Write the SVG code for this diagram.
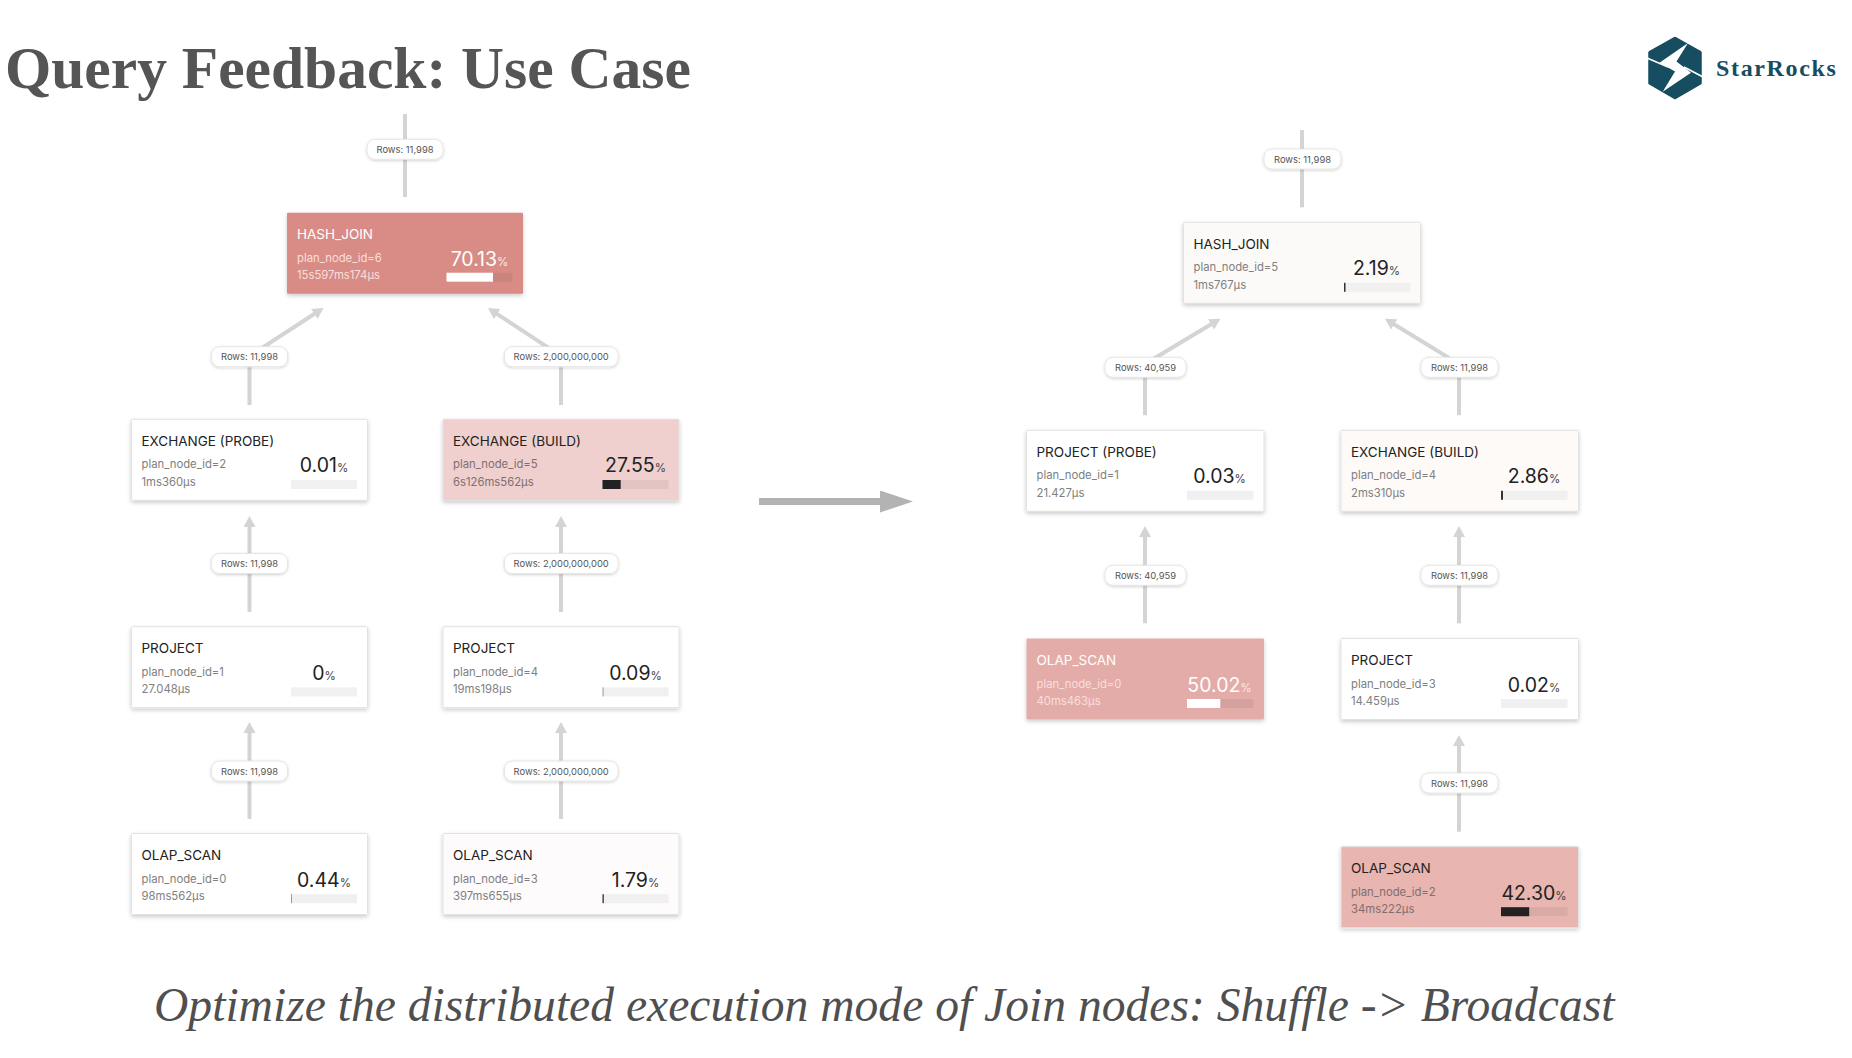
<svg xmlns="http://www.w3.org/2000/svg" width="1852" height="1058" viewBox="0 0 1852 1058">
<style>
text{font-family:Inter,"Liberation Sans",sans-serif}
.serif{font-family:"Liberation Serif",serif}
.head{font-size:59.5px;font-weight:700;fill:#555}
.sub{font-size:47.6px;font-style:italic;fill:#4f4f4f}
.brand{font-size:24px;font-weight:700;fill:#174d60;letter-spacing:1.65px}
.box{stroke:#e2e2e2;stroke-width:1;filter:url(#sh)}
.t{font-size:13.5px;fill:#222}
.m{font-size:11.3px;fill:#808080}
.p{font-size:19.5px;fill:#222;text-anchor:middle}
.p tspan{font-size:11.5px;fill:#444}
.bg{fill:#f0f0f0}
.fg{fill:#222}
.hot{stroke:none}
.hot .t,.hot .p{fill:#fff}
.hot .m{fill:#f8dfdc}
.hot .p tspan{fill:#fbe9e7}
.hot .bg{fill:#000;fill-opacity:.06}
.hot .fg{fill:#fff}
.warm .m{fill:#7f6f6f}
.warm .bg{fill:#000;fill-opacity:.06}
.edge{fill:none;stroke:#d4d4d4;stroke-width:4}
.pill{fill:#fff;stroke:#e6e6e6;stroke-width:1;filter:url(#sh2)}
.l{font-size:9.4px;fill:#555;text-anchor:middle}
</style>
<defs>
<filter id="sh" x="-5%" y="-10%" width="110%" height="125%"><feDropShadow dx="0" dy="2" stdDeviation="2.2" flood-color="#000" flood-opacity=".2"/></filter>
<filter id="sh2" x="-10%" y="-30%" width="120%" height="170%"><feDropShadow dx="0" dy="1" stdDeviation="1.5" flood-color="#000" flood-opacity=".18"/></filter>
<marker id="ah" markerUnits="userSpaceOnUse" markerWidth="12" markerHeight="12" viewBox="0 0 12 12" refX="5" refY="6" orient="auto"><path d="M0 0L11 6L0 12z" fill="#d4d4d4"/></marker>
<marker id="big" markerUnits="userSpaceOnUse" markerWidth="34" markerHeight="22" viewBox="0 0 34 22" refX="1" refY="11" orient="auto"><path d="M0 0L33 11L0 22z" fill="#b3b3b3"/></marker>
</defs>
<rect width="1852" height="1058" fill="#fff"/>
<text class="serif head" x="5" y="88">Query Feedback: Use Case</text>
<text class="serif sub" x="154" y="1021">Optimize the distributed execution mode of Join nodes: Shuffle -&gt; Broadcast</text>
<g id="logo">
<path d="M1675 38.5L1700 52.5V83L1675 97.5L1650 83V52.5z" fill="#174d60" stroke="#174d60" stroke-width="3.5" stroke-linejoin="round"/>
<path d="M1688 43L1659.5 62.7L1675 71.5L1662.7 91.7L1691 72.7L1676.5 61.5z" fill="#fff"/>
<path d="M1647 58L1668 67M1703 77L1684 67" stroke="#fff" stroke-width="1.6" fill="none"/>
<text class="serif brand" x="1716" y="76">StarRocks</text>
</g>
<g id="connectors">
<path class="edge" d="M405 114V197"/>
<path class="edge" d="M249.5 405V356L318.5 311.3" marker-end="url(#ah)"/>
<path class="edge" d="M561 405V356L493 311.3" marker-end="url(#ah)"/>
<path class="edge" d="M249.5 612V522" marker-end="url(#ah)"/>
<path class="edge" d="M561 612V522" marker-end="url(#ah)"/>
<path class="edge" d="M249.5 819V728" marker-end="url(#ah)"/>
<path class="edge" d="M561 819V728" marker-end="url(#ah)"/>
<path class="edge" d="M1302 130V207.3"/>
<path class="edge" d="M1145 415.3V364L1215.3 321.8" marker-end="url(#ah)"/>
<path class="edge" d="M1459 415.3V364L1390 321.8" marker-end="url(#ah)"/>
<path class="edge" d="M1145 623.3V532" marker-end="url(#ah)"/>
<path class="edge" d="M1459 623.3V532" marker-end="url(#ah)"/>
<path class="edge" d="M1459 831.7V741" marker-end="url(#ah)"/>
<path d="M759 501.5H881" fill="none" stroke="#b3b3b3" stroke-width="7" marker-end="url(#big)"/>
<rect class="pill" x="367" y="139.3" width="76" height="20" rx="8"/><text class="l" x="405" y="152.8">Rows: 11,998</text>
<rect class="pill" x="211.5" y="346.7" width="76" height="20" rx="8"/><text class="l" x="249.5" y="360.2">Rows: 11,998</text>
<rect class="pill" x="504.5" y="346.7" width="113.5" height="20" rx="8"/><text class="l" x="561.2" y="360.2">Rows: 2,000,000,000</text>
<rect class="pill" x="211.5" y="553.5" width="76" height="20" rx="8"/><text class="l" x="249.5" y="567">Rows: 11,998</text>
<rect class="pill" x="504.5" y="553.5" width="113.5" height="20" rx="8"/><text class="l" x="561.2" y="567">Rows: 2,000,000,000</text>
<rect class="pill" x="211.5" y="761" width="76" height="20" rx="8"/><text class="l" x="249.5" y="774.5">Rows: 11,998</text>
<rect class="pill" x="504.5" y="761" width="113.5" height="20" rx="8"/><text class="l" x="561.2" y="774.5">Rows: 2,000,000,000</text>
<rect class="pill" x="1264" y="149" width="77" height="20" rx="8"/><text class="l" x="1302.5" y="162.5">Rows: 11,998</text>
<rect class="pill" x="1105" y="357.3" width="81" height="20" rx="8"/><text class="l" x="1145.5" y="370.8">Rows: 40,959</text>
<rect class="pill" x="1421" y="357.3" width="77" height="20" rx="8"/><text class="l" x="1459.5" y="370.8">Rows: 11,998</text>
<rect class="pill" x="1105" y="565.3" width="81" height="20" rx="8"/><text class="l" x="1145.5" y="578.8">Rows: 40,959</text>
<rect class="pill" x="1421" y="565.3" width="77" height="20" rx="8"/><text class="l" x="1459.5" y="578.8">Rows: 11,998</text>
<rect class="pill" x="1421" y="773" width="77" height="20" rx="8"/><text class="l" x="1459.5" y="786.5">Rows: 11,998</text>
</g>
<g id="n-l-hash" class="hot" transform="translate(287,212.7)"><rect class="box hot" width="236" height="81" rx="1" fill="#d88c85"/><text class="t" x="10" y="26.7">HASH_JOIN</text><text class="m" x="10" y="49">plan_node_id=6</text><text class="m" x="10" y="66.8">15s597ms174μs</text><text class="p" x="192.5" y="53">70.13<tspan>%</tspan></text><rect class="bg" x="159.5" y="60" width="66" height="9"/><rect class="fg" x="159.5" y="60" width="46.5" height="9"/></g>
<g id="n-l-ex-probe" transform="translate(131.5,419.3)"><rect class="box" width="236" height="81" rx="1" fill="#fff"/><text class="t" x="10" y="26.7">EXCHANGE (PROBE)</text><text class="m" x="10" y="49">plan_node_id=2</text><text class="m" x="10" y="66.8">1ms360μs</text><text class="p" x="192.5" y="53">0.01<tspan>%</tspan></text><rect class="bg" x="159.5" y="60.7" width="66" height="9"/></g>
<g id="n-l-ex-build" class="warm" transform="translate(443,419.3)"><rect class="box" width="236" height="81" rx="1" fill="#efd0cf" stroke="none"/><text class="t" x="10" y="26.7">EXCHANGE (BUILD)</text><text class="m" x="10" y="49">plan_node_id=5</text><text class="m" x="10" y="66.8">6s126ms562μs</text><text class="p" x="192.5" y="53">27.55<tspan>%</tspan></text><rect class="bg" x="159.5" y="60.7" width="66" height="9"/><rect class="fg" x="159.5" y="60.7" width="18.2" height="9"/></g>
<g id="n-l-project1" transform="translate(131.5,626.7)"><rect class="box" width="236" height="81" rx="1" fill="#fff"/><text class="t" x="10" y="26.7">PROJECT</text><text class="m" x="10" y="49">plan_node_id=1</text><text class="m" x="10" y="66.8">27.048μs</text><text class="p" x="192.5" y="53">0<tspan>%</tspan></text><rect class="bg" x="159.5" y="60.7" width="66" height="9"/></g>
<g id="n-l-project4" transform="translate(443,626.7)"><rect class="box" width="236" height="81" rx="1" fill="#fff"/><text class="t" x="10" y="26.7">PROJECT</text><text class="m" x="10" y="49">plan_node_id=4</text><text class="m" x="10" y="66.8">19ms198μs</text><text class="p" x="192.5" y="53">0.09<tspan>%</tspan></text><rect class="bg" x="159.5" y="60.7" width="66" height="9"/><rect x="159.5" y="60.7" width="1.2" height="9" fill="#aaa"/></g>
<g id="n-l-scan0" transform="translate(131.5,833.5)"><rect class="box" width="236" height="81" rx="1" fill="#fff"/><text class="t" x="10" y="26.7">OLAP_SCAN</text><text class="m" x="10" y="49">plan_node_id=0</text><text class="m" x="10" y="66.8">98ms562μs</text><text class="p" x="192.5" y="53">0.44<tspan>%</tspan></text><rect class="bg" x="159.5" y="60.7" width="66" height="9"/><rect x="159.5" y="60.7" width="1" height="9" fill="#999"/></g>
<g id="n-l-scan3" transform="translate(443,833.5)"><rect class="box" width="236" height="81" rx="1" fill="#fdfbfb"/><text class="t" x="10" y="26.7">OLAP_SCAN</text><text class="m" x="10" y="49">plan_node_id=3</text><text class="m" x="10" y="66.8">397ms655μs</text><text class="p" x="192.5" y="53">1.79<tspan>%</tspan></text><rect class="bg" x="159.5" y="60.7" width="66" height="9"/><rect x="159.5" y="60.7" width="1.3" height="9" fill="#333"/></g>
<g id="n-r-hash" transform="translate(1183.5,222.3)"><rect class="box" width="237" height="81" rx="1" fill="#fcfaf8"/><text class="t" x="10" y="26.8">HASH_JOIN</text><text class="m" x="10" y="49">plan_node_id=5</text><text class="m" x="10" y="66.8">1ms767μs</text><text class="p" x="193" y="53.2">2.19<tspan>%</tspan></text><rect class="bg" x="160.5" y="60.5" width="66.5" height="9"/><rect x="160.5" y="60.5" width="1.5" height="9" fill="#333"/></g>
<g id="n-r-project1" transform="translate(1026.5,430.3)"><rect class="box" width="237.5" height="81" rx="1" fill="#fff"/><text class="t" x="10" y="26.8">PROJECT (PROBE)</text><text class="m" x="10" y="49">plan_node_id=1</text><text class="m" x="10" y="66.8">21.427μs</text><text class="p" x="193" y="53.2">0.03<tspan>%</tspan></text><rect class="bg" x="160.5" y="60.5" width="66.5" height="9"/></g>
<g id="n-r-ex-build" transform="translate(1341,430.3)"><rect class="box" width="237.5" height="81" rx="1" fill="#fdfaf8"/><text class="t" x="10" y="26.8">EXCHANGE (BUILD)</text><text class="m" x="10" y="49">plan_node_id=4</text><text class="m" x="10" y="66.8">2ms310μs</text><text class="p" x="193" y="53.2">2.86<tspan>%</tspan></text><rect class="bg" x="160" y="60.5" width="66.5" height="9"/><rect x="160" y="60.5" width="2" height="9" fill="#333"/></g>
<g id="n-r-scan0" class="hot" transform="translate(1026.5,638.5)"><rect class="box hot" width="237.5" height="81" rx="1" fill="#e3aca8"/><text class="t" x="10" y="26.8">OLAP_SCAN</text><text class="m" x="10" y="49">plan_node_id=0</text><text class="m" x="10" y="66.8">40ms463μs</text><text class="p" x="193" y="53.2">50.02<tspan>%</tspan></text><rect class="bg" x="160.5" y="60.5" width="66.5" height="9"/><rect class="fg" x="160.5" y="60.5" width="33.3" height="9"/></g>
<g id="n-r-project3" transform="translate(1341,638.5)"><rect class="box" width="237.5" height="81" rx="1" fill="#fff"/><text class="t" x="10" y="26.8">PROJECT</text><text class="m" x="10" y="49">plan_node_id=3</text><text class="m" x="10" y="66.8">14.459μs</text><text class="p" x="193" y="53.2">0.02<tspan>%</tspan></text><rect class="bg" x="160" y="60.5" width="66.5" height="9"/></g>
<g id="n-r-scan2" class="warm" transform="translate(1341,846.7)"><rect class="box" width="237.5" height="81" rx="1" fill="#e8b5b1" stroke="none"/><text class="t" x="10" y="26.8">OLAP_SCAN</text><text class="m" x="10" y="49">plan_node_id=2</text><text class="m" x="10" y="66.8">34ms222μs</text><text class="p" x="193" y="53.2">42.30<tspan>%</tspan></text><rect class="bg" x="160" y="60.5" width="66.5" height="9"/><rect class="fg" x="160" y="60.5" width="28.2" height="9"/></g>
</svg>
